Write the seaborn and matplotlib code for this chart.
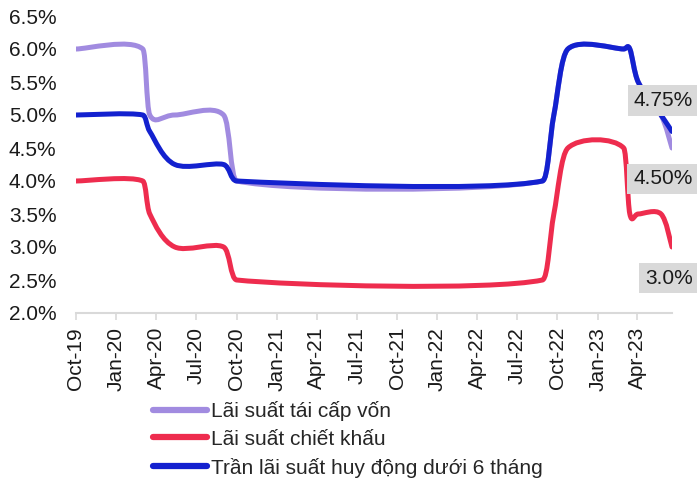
import numpy as np
import pandas as pd
import matplotlib
matplotlib.use("Agg")
import matplotlib.pyplot as plt
import matplotlib.dates as mdates
from matplotlib.path import Path
from matplotlib.patches import PathPatch
from matplotlib.lines import Line2D
from matplotlib.ticker import FuncFormatter, MultipleLocator
import seaborn as sns

# Policy-rate observation dates (rows shared by all three series)
dates = ["2019-10-01", "2020-03-01", "2020-03-17", "2020-05-13", "2020-09-01",
         "2020-10-01", "2022-08-28", "2022-09-23", "2022-10-25", "2023-03-01",
         "2023-03-15", "2023-04-03", "2023-05-25", "2023-06-19"]
refinancing = [6.0, 6.0, 5.0, 5.0, 5.0, 4.0, 4.0, 5.0, 6.0, 6.0, 6.0, 5.5, 5.0, 4.5]
discount = [4.0, 4.0, 3.5, 3.0, 3.0, 2.5, 2.5, 3.5, 4.5, 4.5, 3.5, 3.5, 3.5, 3.0]
deposit_cap = [5.0, 5.0, 4.75, 4.25, 4.25, 4.0, 4.0, 5.0, 6.0, 6.0, 6.0, 5.5, 5.0, 4.75]

series_names = ["Lãi suất tái cấp vốn", "Lãi suất chiết khấu",
                "Trần lãi suất huy động dưới 6 tháng"]
series_values = [refinancing, discount, deposit_cap]
series_colors = ["#A18BE0", "#EE2C4E", "#1321CF"]
end_labels = ["4.50%", "3.0%", "4.75%"]
end_label_offsets = [(-9, -31), (-3, -31), (-9, 31)]   # pixels from the last point

y_min, y_max = 2.0, 6.5

sns.set_theme(style="white")
plt.rcParams["font.family"] = ["Liberation Sans", "DejaVu Sans"]
FS = 15

fig = plt.figure(figsize=(6.97, 4.79), dpi=100)
ax = fig.add_axes([76 / 697, 1 - 313 / 479, 596 / 697, 297 / 479])

dt = pd.to_datetime(dates)
df = pd.DataFrame({"date": np.tile(dt, 3),
                   "rate": np.concatenate(series_values),
                   "series": np.repeat(series_names, len(dates))})
# registers the date axis; the visible curves are drawn below as smoothed paths
sns.lineplot(data=df, x="date", y="rate", hue="series",
             palette=dict(zip(series_names, series_colors)),
             linewidth=0, legend=False, ax=ax)

ax.set_xlim(dt[0], dt[-1])
ax.set_ylim(y_min, y_max)
xnum = mdates.date2num(dt)


def smooth_path(xs, ys):
    """Cubic Bezier path through the points, spreadsheet-style smoothed line."""
    pts = np.column_stack([xs, np.asarray(ys, dtype=float)])
    n = len(pts)
    verts = [pts[0]]
    codes = [Path.MOVETO]
    for i in range(n - 1):
        p0 = pts[i - 1] if i > 0 else pts[i]
        p1, p2 = pts[i], pts[i + 1]
        p3 = pts[i + 2] if i + 2 < n else pts[i + 1]
        d12 = np.hypot(*(p2 - p1))
        d02 = np.hypot(*(p2 - p0))
        d13 = np.hypot(*(p3 - p1))
        f0 = 1 / 6
        f1 = 1 / 6
        if d02 > 0 and d02 / 6 >= d12 / 2:
            f0 = d12 / d02 / 2
        if d13 > 0 and d13 / 6 >= d12 / 2:
            f1 = d12 / d13 / 2
        c1 = p1 + (p2 - p0) * f0
        c2 = p2 - (p3 - p1) * f1
        verts += [c1, c2, p2]
        codes += [Path.CURVE4] * 3
    return Path(np.array(verts), codes)


for vals, color in zip(series_values, series_colors):
    patch = PathPatch(smooth_path(xnum, vals), fill=False, edgecolor=color,
                      lw=3.6, capstyle="round", joinstyle="round", zorder=3)
    ax.add_patch(patch)

for vals, label, off in zip(series_values, end_labels, end_label_offsets):
    ax.annotate(label, xy=(xnum[-1], vals[-1]), xytext=off,
                textcoords="offset pixels", ha="center", va="center",
                fontsize=FS, color="#1a1a1a", annotation_clip=False, zorder=6,
                bbox=dict(boxstyle="square,pad=0.28", fc="#D9D9D9", ec="none"))

ax.xaxis.set_major_locator(mdates.MonthLocator(bymonth=[1, 4, 7, 10]))
ax.xaxis.set_major_formatter(mdates.DateFormatter("%b-%y"))
ax.yaxis.set_major_locator(MultipleLocator(0.5))
ax.yaxis.set_major_formatter(FuncFormatter(lambda v, _: f"{v:.1f}%"))
ax.set_xlabel("")
ax.set_ylabel("")

sns.despine(ax=ax, left=True)
ax.spines["bottom"].set_color("#D9D9D9")
ax.spines["bottom"].set_linewidth(1.5)
ax.tick_params(axis="x", which="major", direction="out", length=5, width=1.2,
               color="#D9D9D9", labelsize=FS, labelcolor="#1a1a1a",
               labelrotation=90, pad=5, bottom=True)
ax.tick_params(axis="y", length=0, labelsize=FS, labelcolor="#1a1a1a", pad=14)
ax.grid(False)

handles = [Line2D([0], [0], color=c, lw=4.5, solid_capstyle="round")
           for c in series_colors]
fig.legend(handles, series_names, loc="upper left",
           bbox_to_anchor=(153 / 697, 1 - 401 / 479), frameon=False,
           fontsize=FS, handlelength=2.6, handletextpad=0.2,
           labelspacing=0.42, borderpad=0, borderaxespad=0)

fig.savefig("out.png", dpi=100)
